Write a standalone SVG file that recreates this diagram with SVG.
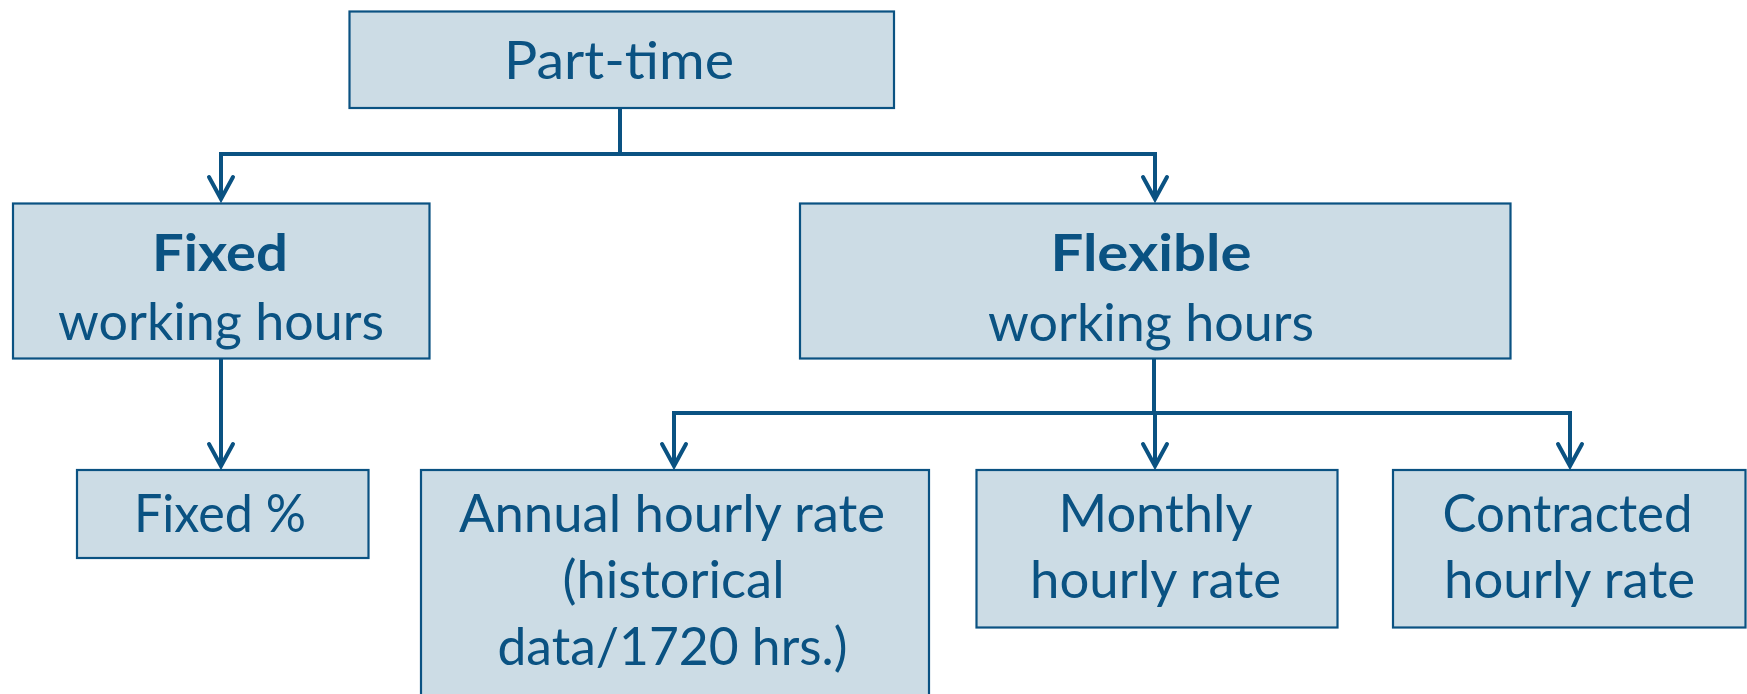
<svg xmlns="http://www.w3.org/2000/svg" width="1747" height="694" viewBox="0 0 1747 694">
  <defs>
    <style>
      .box { fill: #CCDCE5; stroke: #0A5282; stroke-width: 2.2; }
      .lbl { font-family: Lato, "Liberation Sans", sans-serif; font-size: 52px; fill: #0A5282; text-anchor: middle; }
      .b { font-weight: bold; }
      .wire { fill: none; stroke: #0A5282; stroke-width: 4; stroke-linejoin: miter; }
      .tip { marker-end: url(#chev); }
      .both { marker-start: url(#chev); marker-end: url(#chev); }
    </style>
    <!-- open chevron arrowhead, tip at the path end -->
    <marker id="chev" markerUnits="userSpaceOnUse" markerWidth="40" markerHeight="40" refX="0" refY="0" orient="auto-start-reverse" overflow="visible">
      <path d="M -22 -12 L 0 0 L -22 12" fill="none" stroke="#0A5282" stroke-width="4" stroke-linejoin="miter" stroke-linecap="round"/>
    </marker>
  </defs>

  <rect width="1747" height="694" fill="#FFFFFF"/>

  <g id="connectors">
    <path class="wire" d="M 620 108 V 154"/>
    <path class="wire both" d="M 221 199 V 154 H 1155 V 199"/>
    <path class="wire tip" d="M 221 359 V 466"/>
    <path class="wire" d="M 1154 359 V 413"/>
    <path class="wire both" d="M 674 466 V 413 H 1570 V 466"/>
    <path class="wire tip" d="M 1155 413 V 466"/>
  </g>

  <g id="part-time">
    <rect class="box" x="349.5" y="11.5" width="544.5" height="96.5"/>
    <text class="lbl" x="619" y="79" textLength="230" lengthAdjust="spacingAndGlyphs">Part-time</text>
  </g>

  <g id="fixed">
    <rect class="box" x="13" y="203.5" width="416.5" height="155"/>
    <text class="lbl b" x="220" y="271" textLength="136" lengthAdjust="spacingAndGlyphs">Fixed</text>
    <text class="lbl" x="221" y="340" textLength="326" lengthAdjust="spacingAndGlyphs">working hours</text>
  </g>

  <g id="flexible">
    <rect class="box" x="800" y="203.5" width="710.5" height="155"/>
    <text class="lbl b" x="1151" y="271" textLength="201" lengthAdjust="spacingAndGlyphs">Flexible</text>
    <text class="lbl" x="1151" y="340.5" textLength="326" lengthAdjust="spacingAndGlyphs">working hours</text>
  </g>

  <g id="fixed-percent">
    <rect class="box" x="77" y="470" width="291.5" height="88"/>
    <text class="lbl" x="220" y="532" textLength="172" lengthAdjust="spacingAndGlyphs">Fixed %</text>
  </g>

  <g id="annual-rate">
    <rect class="box" x="421" y="470" width="508" height="240"/>
    <text class="lbl" x="672" y="532" textLength="426" lengthAdjust="spacingAndGlyphs">Annual hourly rate</text>
    <text class="lbl" x="673.5" y="598" textLength="222" lengthAdjust="spacingAndGlyphs">(historical</text>
    <text class="lbl" x="672.5" y="665" textLength="350" lengthAdjust="spacingAndGlyphs">data/1720 hrs.)</text>
  </g>

  <g id="monthly-rate">
    <rect class="box" x="976.5" y="470" width="361" height="157.5"/>
    <text class="lbl" x="1155.5" y="532" textLength="194" lengthAdjust="spacingAndGlyphs">Monthly</text>
    <text class="lbl" x="1155.5" y="598" textLength="251" lengthAdjust="spacingAndGlyphs">hourly rate</text>
  </g>

  <g id="contracted-rate">
    <rect class="box" x="1393" y="470" width="352.5" height="157.5"/>
    <text class="lbl" x="1567.5" y="532" textLength="250" lengthAdjust="spacingAndGlyphs">Contracted</text>
    <text class="lbl" x="1569.5" y="598" textLength="251" lengthAdjust="spacingAndGlyphs">hourly rate</text>
  </g>
</svg>
